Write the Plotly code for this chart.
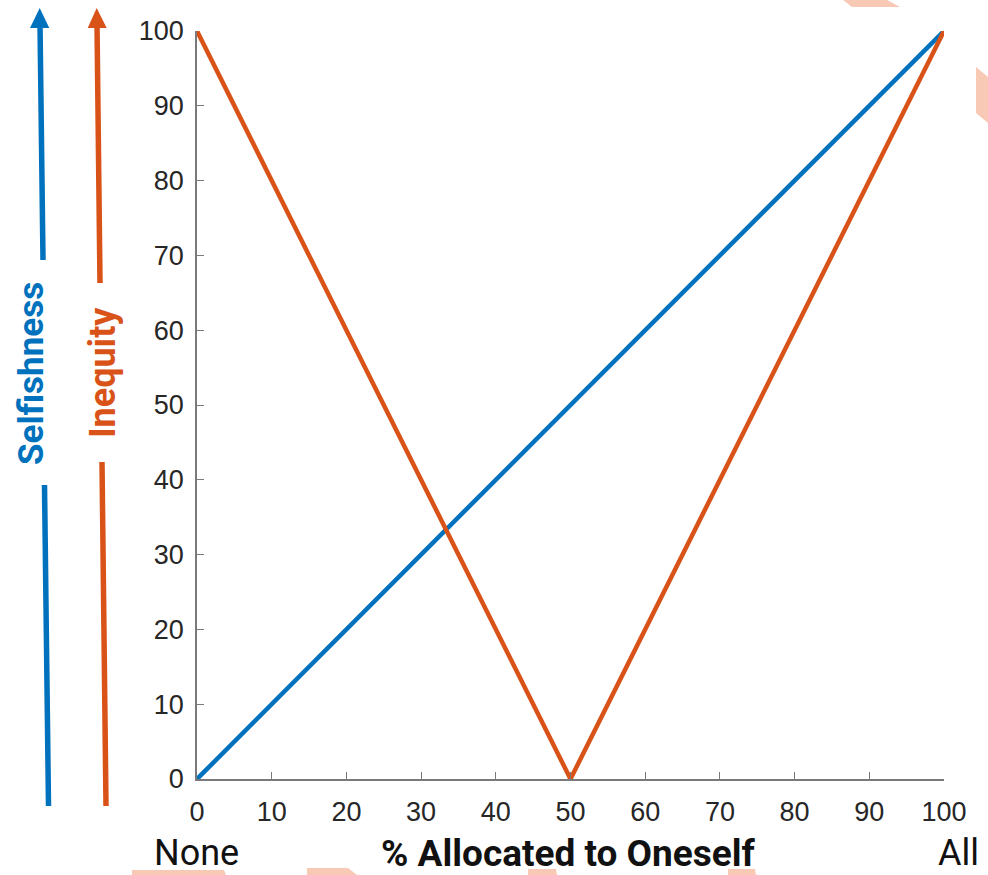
import plotly.graph_objects as go

# ---- data ----
x_selfish = [0, 100]
selfishness = [0, 100]
x_inequity = [0, 50, 100]
inequity = [100, 0, 100]
tick_vals = [0, 10, 20, 30, 40, 50, 60, 70, 80, 90, 100]
tick_text = [str(v) for v in tick_vals]

BLUE = "#0072BD"
ORANGE = "#D95319"
SALMON = "#F8C9B4"

W, H = 988, 875
L, R, T, B = 197, 44, 31, 96
PW, PH = W - L - R, H - T - B


def px(x):
    return (x - L) / PW


def py(y):
    return (H - B - y) / PH


fig = go.Figure()
fig.add_trace(go.Scatter(x=x_selfish, y=selfishness, mode="lines",
                         line=dict(color=BLUE, width=4.5), showlegend=False,
                         cliponaxis=False))
fig.add_trace(go.Scatter(x=x_inequity, y=inequity, mode="lines",
                         line=dict(color=ORANGE, width=4.5), showlegend=False,
                         cliponaxis=False))

shapes = []


def seg(x0, y0, x1, y1, color, w=5.5):
    shapes.append(dict(type="line", xref="paper", yref="paper",
                       x0=px(x0), y0=py(y0), x1=px(x1), y1=py(y1),
                       line=dict(color=color, width=w)))


def poly(pts, color):
    d = "M " + " L ".join(f"{px(a)},{py(b)}" for a, b in pts) + " Z"
    shapes.append(dict(type="path", xref="paper", yref="paper", path=d,
                       fillcolor=color, line=dict(width=0), layer="below"))


# blue arrow (Selfishness)
seg(48.5, 806, 44.5, 485, BLUE)
seg(43, 260, 40, 24, BLUE)
poly([(39.7, 8), (30, 28), (49.3, 28)], BLUE)
# orange arrow (Inequity)
seg(106, 806, 102, 462, ORANGE)
seg(100, 283, 97, 24, ORANGE)
poly([(96.7, 8), (87.7, 28), (106.7, 28)], ORANGE)

# faint background fragments
poly([(843, 0), (887, 0), (900, 7), (852, 7)], SALMON)
poly([(976, 67), (988, 77), (988, 123), (976, 113)], SALMON)
poly([(132, 870), (224, 870), (226, 875), (132, 875)], SALMON)
poly([(307, 868), (348, 868), (357, 875), (307, 875)], SALMON)
poly([(528, 869), (556, 869), (557, 875), (528, 875)], SALMON)
poly([(728, 869), (755, 869), (756, 875), (728, 875)], SALMON)

annotations = [
    dict(text="<b>Selfishness</b>", x=px(32), y=py(374), textangle=-90,
         font=dict(family="Roboto", size=35, color=BLUE)),
    dict(text="<b>Inequity</b>", x=px(103), y=py(372), textangle=-90,
         font=dict(family="Roboto", size=36, color=ORANGE)),
    dict(text="None", x=px(196), y=py(853),
         font=dict(family="Roboto", size=36, color="#111111")),
    dict(text="All", x=px(958), y=py(853),
         font=dict(family="Roboto", size=36, color="#111111")),
    dict(text="<b>% Allocated to Oneself</b>", x=px(568), y=py(853),
         font=dict(family="Roboto", size=37, color="#111111")),
]
for a in annotations:
    a.update(xref="paper", yref="paper", showarrow=False,
             xanchor="center", yanchor="middle")

axis_common = dict(
    showgrid=False, zeroline=False, showline=True, linecolor="#7a7a7a",
    linewidth=1.5, ticks="inside", ticklen=7, tickwidth=1.3, tickcolor="#7a7a7a",
    tickvals=tick_vals, ticktext=tick_text, range=[0, 100],
    tickfont=dict(family="Liberation Sans", size=27, color="#262626"),
    mirror=False,
)

fig.update_layout(
    width=W, height=H, autosize=False,
    margin=dict(l=L, r=R, t=T, b=B, pad=0),
    paper_bgcolor="white", plot_bgcolor="white",
    xaxis=dict(**axis_common, ticklabelstandoff=8),
    yaxis=dict(**axis_common, ticklabelstandoff=6),
    shapes=shapes, annotations=annotations,
)

fig.write_html("out.html", config={"displayModeBar": False},
               post_script="document.body.style.margin='0';")
